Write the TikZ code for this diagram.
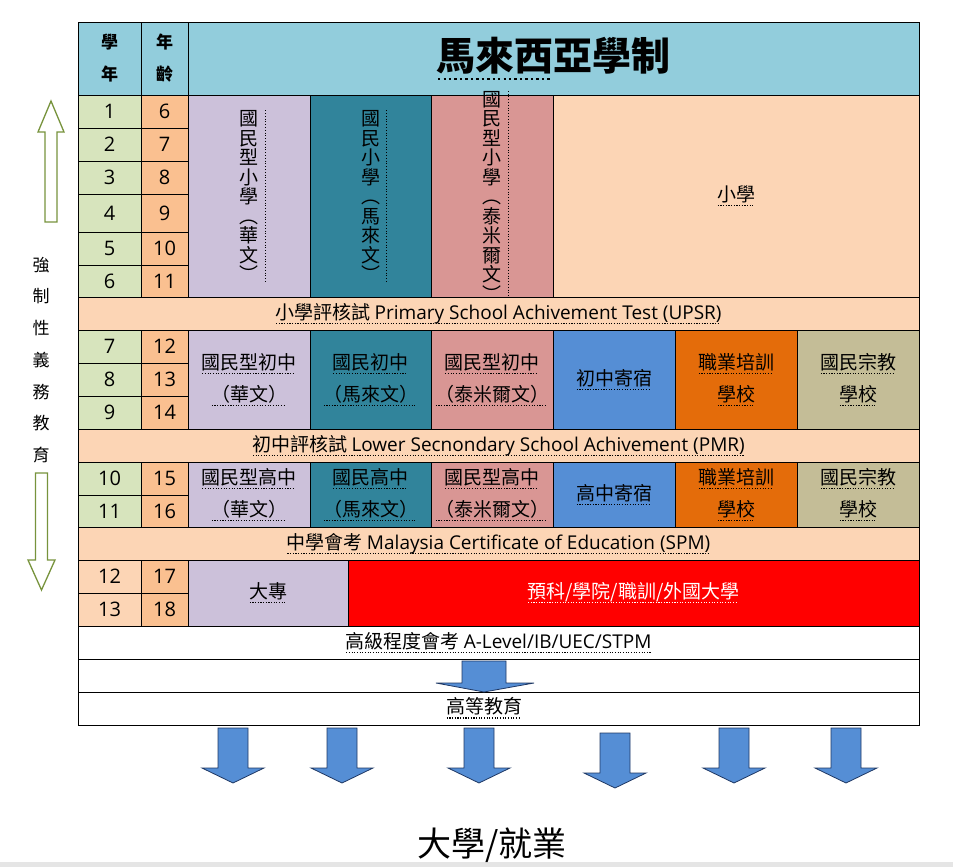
\documentclass[tikz,border=0pt]{standalone}
\usepackage{fontspec}
\setmainfont{Noto Sans CJK TC}
\newfontfamily\lat{Open Sans}

\definecolor{hdblue}{HTML}{92CDDC}
\definecolor{yrgreen}{HTML}{D7E4BD}
\definecolor{agorange}{HTML}{FAC090}
\definecolor{peach}{HTML}{FCD5B5}
\definecolor{lav}{HTML}{CCC1DA}
\definecolor{teal}{HTML}{31849B}
\definecolor{pinkc}{HTML}{D99694}
\definecolor{bluec}{HTML}{558ED5}
\definecolor{orangec}{HTML}{E46C0A}
\definecolor{khaki}{HTML}{C4BD97}
\definecolor{olivearrow}{HTML}{77933C}
\definecolor{arrowblue}{HTML}{558ED5}
\definecolor{arrowedge}{HTML}{1F3864}

% dotted underline
\newcommand\dul[1]{\setbox0\hbox{#1}\leavevmode\rlap{\lower0.2em\hbox to\wd0{\leaders\hbox{\kern0.04em\vrule width0.06em height0pt depth0.055em\kern0.04em}\hfill}}\box0}
\newcommand\two[2]{\dul{#1}\\\dul{#2}}
% cell from corner (x1,y1) to (x2,y2)
\newcommand\tcell[7]{\node[#6, minimum width={(#4-#2)*1pt}, minimum height={(#5-#3)*1pt}] (#1) at ({(#2+#4)/2},{(#3+#5)/2}) {#7};}

\begin{document}
\begin{tikzpicture}[x=1pt, y=-1pt,
    cell/.style={draw=black, line width=0.8pt, inner sep=0pt, align=center, font=\fontsize{19}{32}\selectfont},
    numcell/.style={cell, font=\lat\fontsize{20}{24}\selectfont},
    headcell/.style={cell, fill=hdblue, font=\bfseries\fontsize{17}{32}\selectfont},
    vtext/.style={inner xsep=6.5pt, inner ysep=0pt, align=center, font=\fontsize{19}{19.5}\selectfont},
    dotline/.style={line width=1pt, dash pattern=on 1pt off 1.8pt},
    hollow/.style={draw=olivearrow, fill=white, line width=1.3pt},
    blockarrow/.style={draw=arrowedge, fill=arrowblue, line width=0.8pt}]
\useasboundingbox (0,0) rectangle (953,867);
\fill[black!10] (0,862) rectangle (953,867);

% header
\tcell{hdyr}{78}{22}{141}{95}{headcell}{學\\年}
\tcell{hdag}{141}{22}{188}{95}{headcell}{年\\齡}
\tcell{title}{188}{22}{919}{95}{headcell, font=\bfseries\fontsize{39}{44}\selectfont}{\dul{馬來西}亞學制}

% year / age columns
\foreach \yr/\ag/\ya/\yb in {1/6/95/128, 2/7/128/161, 3/8/161/194, 4/9/194/232, 5/10/232/265, 6/11/265/297,
    7/12/330/363, 8/13/363/396, 9/14/396/429, 10/15/462/495, 11/16/495/527}
  {\tcell{yr\yr}{78}{\ya}{141}{\yb}{numcell, fill=yrgreen}{\yr}
   \tcell{ag\yr}{141}{\ya}{188}{\yb}{numcell, fill=agorange}{\ag}}
\foreach \yr/\ag/\ya/\yb in {12/17/560/593, 13/18/593/626}
  {\tcell{yr\yr}{78}{\ya}{141}{\yb}{numcell, fill=peach}{\yr}
   \tcell{ag\yr}{141}{\ya}{188}{\yb}{numcell, fill=agorange}{\ag}}

% primary
\tcell{p1}{188}{95}{310}{297}{cell, fill=lav}{}
\tcell{p2}{310}{95}{431}{297}{cell, fill=teal}{}
\tcell{p3}{431}{95}{553}{297}{cell, fill=pinkc}{}
\tcell{p4}{553}{95}{919}{297}{cell, fill=peach}{\dul{小學}}
\node[vtext] (p1t) at (p1) {國\\民\\型\\小\\學\\︵\\華\\文\\︶};
\node[vtext] (p2t) at (p2) {國\\民\\小\\學\\︵\\馬\\來\\文\\︶};
\node[vtext] (p3t) at (p3) {國\\民\\型\\小\\學\\︵\\泰\\米\\爾\\文\\︶};
\foreach \t in {p1t, p2t, p3t}
  \draw[dotline] (\t.north east) -- (\t.south east);
\tcell{upsr}{78}{297}{919}{330}{cell, fill=peach}{\dul{小學評核試 {\lat Primary School Achivement Test (UPSR)}}}

% lower secondary
\tcell{j1}{188}{330}{310}{429}{cell, fill=lav}{\two{國民型初中}{（華文）}}
\tcell{j2}{310}{330}{431}{429}{cell, fill=teal}{\two{國民初中}{（馬來文）}}
\tcell{j3}{431}{330}{553}{429}{cell, fill=pinkc}{\two{國民型初中}{（泰米爾文）}}
\tcell{j4}{553}{330}{675}{429}{cell, fill=bluec}{\dul{初中寄宿}}
\tcell{j5}{675}{330}{797}{429}{cell, fill=orangec}{\two{職業培訓}{學校}}
\tcell{j6}{797}{330}{919}{429}{cell, fill=khaki}{\two{國民宗教}{學校}}
\tcell{pmr}{78}{429}{919}{462}{cell, fill=peach}{\dul{初中評核試 {\lat Lower Secnondary School Achivement (PMR)}}}

% upper secondary
\tcell{s1}{188}{462}{310}{527}{cell, fill=lav}{\two{國民型高中}{（華文）}}
\tcell{s2}{310}{462}{431}{527}{cell, fill=teal}{\two{國民高中}{（馬來文）}}
\tcell{s3}{431}{462}{553}{527}{cell, fill=pinkc}{\two{國民型高中}{（泰米爾文）}}
\tcell{s4}{553}{462}{675}{527}{cell, fill=bluec}{\dul{高中寄宿}}
\tcell{s5}{675}{462}{797}{527}{cell, fill=orangec}{\two{職業培訓}{學校}}
\tcell{s6}{797}{462}{919}{527}{cell, fill=khaki}{\two{國民宗教}{學校}}
\tcell{spm}{78}{527}{919}{560}{cell, fill=peach}{\dul{中學會考 {\lat Malaysia Certificate of Education (SPM)}}}

% pre-university
\tcell{dz}{188}{560}{348}{626}{cell, fill=lav}{\dul{大專}}
\tcell{yk}{348}{560}{919}{626}{cell, fill=red, text=white}{\dul{預科/學院/職訓/外國大學}}
\tcell{alvl}{78}{626}{919}{659}{cell}{\dul{高級程度會考 {\lat A-Level/IB/UEC/STPM}}}
\tcell{gap}{78}{659}{919}{692}{cell}{}
\tcell{higher}{78}{692}{919}{725}{cell}{}
\node[font=\fontsize{19}{24}\selectfont] (highert) at (484,708) {\dul{高等教育}};
\draw[blockarrow] (462,661) -- (506,661) -- (506,683) -- (534,683) -- (484,692) -- (436,683) -- (462,683) -- cycle;

% compulsory education
\node[align=center, font=\fontsize{17}{31.7}\selectfont] (compul) at (41,360) {強\\制\\性\\義\\務\\教\\育};
\draw[hollow] (45,222) -- (45,132) -- (38,132) -- (51,101) -- (64,132) -- (57,132) -- (57,222) -- cycle;
\draw[hollow] (35.5,473) -- (47.5,473) -- (47.5,560) -- (55,560) -- (41.5,590) -- (28,560) -- (35.5,560) -- cycle;

% outcome
\foreach \ax/\ay in {233/728, 342/728, 479/728, 615/733, 734/728, 846/728}
  \draw[blockarrow] ({\ax-15},\ay) -- ({\ax+15},\ay) -- ({\ax+15},\ay+40) -- ({\ax+31},\ay+40)
    -- (\ax,\ay+55) -- ({\ax-31},\ay+40) -- ({\ax-15},\ay+40) -- cycle;
\node[font=\fontsize{34}{40}\selectfont] (goal) at (492,845) {大學/就業};
\end{tikzpicture}
\end{document}
